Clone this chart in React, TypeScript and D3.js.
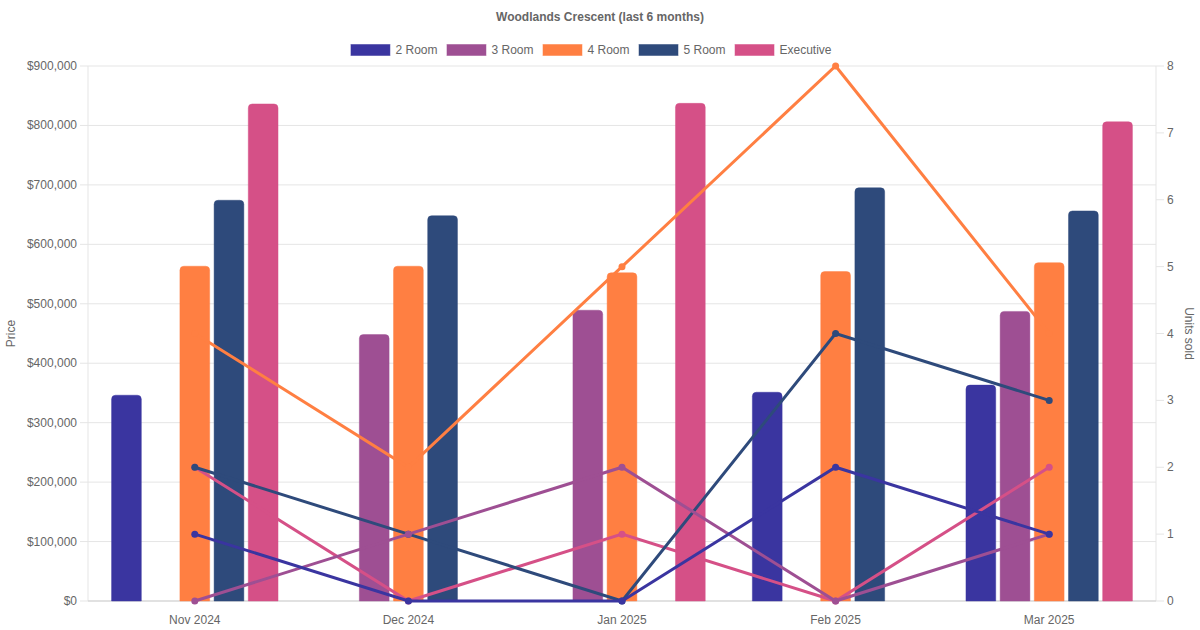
import { useMemo } from 'react'
import * as d3 from 'd3'

const W = 1200
const H = 630

const months = ['Nov 2024', 'Dec 2024', 'Jan 2025', 'Feb 2025', 'Mar 2025']
const flatTypes = ['2 Room', '3 Room', '4 Room', '5 Room', 'Executive']
const colors = ['#3a35a0', '#9e4f93', '#ff7f42', '#2e4a7b', '#d55087']

// median price per flat type (null = no sale that month)
const price2 = [347000, null, null, 352000, 364000]
const price3 = [null, 449000, 490000, null, 488000]
const price4 = [564000, 564000, 553000, 555000, 570000]
const price5 = [675000, 649000, null, 696000, 657000]
const priceExec = [837000, null, 838000, null, 807000]

// units sold per flat type
const units2 = [1, 0, 0, 2, 1]
const units3 = [0, 1, 2, 0, 1]
const units4 = [4, 2, 5, 8, 4]
const units5 = [2, 1, 0, 4, 3]
const unitsExec = [2, 0, 1, 0, 2]

const priceTicks = [0, 100000, 200000, 300000, 400000, 500000, 600000, 700000, 800000, 900000]
const unitTicks = [0, 1, 2, 3, 4, 5, 6, 7, 8]

const prices = [price2, price3, price4, price5, priceExec]
const units = [units2, units3, units4, units5, unitsExec]

const FONT = "'Helvetica Neue', Helvetica, Arial, 'Liberation Sans', sans-serif"
const TXT = '#666'
const GRID = '#e5e5e5'

const m = { top: 66, right: 44, bottom: 29, left: 88 }

function topRounded(x: number, y: number, w: number, h: number, r: number) {
  const rr = Math.min(r, w / 2, h)
  return `M${x},${y + h}V${y + rr}Q${x},${y} ${x + rr},${y}H${x + w - rr}Q${x + w},${y} ${x + w},${y + rr}V${y + h}Z`
}

export default function App() {
  const x0 = d3.scaleBand().domain(months).range([m.left, W - m.right]).paddingInner(0.2).paddingOuter(0.1)
  const x1 = d3.scaleBand().domain(flatTypes).range([0, x0.bandwidth()]).paddingInner(0.1).paddingOuter(0.05)
  const yL = d3.scaleLinear().domain([0, 900000]).range([H - m.bottom, m.top])
  const yR = d3.scaleLinear().domain([0, 8]).range([H - m.bottom, m.top])
  const cx = (mo: string) => (x0(mo) ?? 0) + x0.bandwidth() / 2
  const fmt = d3.format('$,')

  // legend layout (centre sits a little left of the page centre, as in the original)
  const legend = useMemo(() => {
    const ctx = document.createElement('canvas').getContext('2d')!
    ctx.font = `12px ${FONT}`
    const widths = flatTypes.map(t => 45 + ctx.measureText(t).width)
    const total = d3.sum(widths) + 9 * (widths.length - 1)
    let pos = 591 - total / 2
    return widths.map(w => { const p = pos; pos += w + 9; return p })
  }, [])

  const line = d3.line<number>().x((_, i) => cx(months[i])).y(d => yR(d))

  return (
    <div style={{ position: 'fixed', left: 0, top: 0 }}>
      <svg width={W} height={H} style={{ display: 'block', fontFamily: FONT }}>
        <rect width={W} height={H} fill="#fff" />
        <text x={W / 2} y={21} textAnchor="middle" fontSize={12} fontWeight="bold" fill={TXT}>
          Woodlands Crescent (last 6 months)
        </text>

        {flatTypes.map((t, i) => (
          <g key={t} transform={`translate(${legend[i]},44)`}>
            <rect x={0.5} y={0.5} width={39} height={11} fill={colors[i]} stroke={colors[i]} strokeOpacity={0.5} />
            <text x={45} y={10} fontSize={12} fill={TXT}>{t}</text>
          </g>
        ))}

        {/* grid + left axis */}
        {priceTicks.map(v => (
          <g key={v}>
            <line x1={m.left - 8} x2={W - m.right} y1={yL(v)} y2={yL(v)} stroke={GRID} />
            <text x={m.left - 11} y={yL(v) + 4} textAnchor="end" fontSize={12} fill={TXT}>{fmt(v)}</text>
          </g>
        ))}
        <line x1={m.left} x2={m.left} y1={m.top} y2={H - m.bottom} stroke={GRID} />
        <line x1={W - m.right} x2={W - m.right} y1={m.top} y2={H - m.bottom} stroke={GRID} />
        <line x1={m.left} x2={W - m.right} y1={H - m.bottom} y2={H - m.bottom} stroke="#d0d0d0" />

        {/* right axis */}
        {unitTicks.map(v => (
          <g key={v}>
            <line x1={W - m.right} x2={W - m.right + 8} y1={yR(v)} y2={yR(v)} stroke={GRID} />
            <text x={W - m.right + 11} y={yR(v) + 4} fontSize={12} fill={TXT}>{v}</text>
          </g>
        ))}

        {/* x labels */}
        {months.map(mo => (
          <text key={mo} x={cx(mo)} y={624} textAnchor="middle" fontSize={12} fill={TXT}>{mo}</text>
        ))}

        <text transform={`translate(15,${(m.top + H - m.bottom) / 2}) rotate(-90)`} textAnchor="middle" fontSize={12} fill={TXT}>Price</text>
        <text transform={`translate(1185,${(m.top + H - m.bottom) / 2}) rotate(90)`} textAnchor="middle" fontSize={12} fill={TXT}>Units sold</text>

        {/* bars */}
        {months.map((mo, mi) => (
          <g key={mo} transform={`translate(${x0(mo)},0)`}>
            {flatTypes.map((t, ti) => {
              const v = prices[ti][mi]
              if (v == null) return null
              const bx = x1(t) ?? 0
              const by = yL(v)
              return (
                <path key={t}
                  d={topRounded(bx + 0.5, by + 0.5, x1.bandwidth() - 1, yL(0) - by - 0.5, 4)}
                  fill={colors[ti]} stroke={colors[ti]} strokeOpacity={0.45} />
              )
            })}
          </g>
        ))}

        {/* unit lines, first series on top */}
        {flatTypes.map((t, ti) => ti).reverse().map(ti => (
          <g key={flatTypes[ti]}>
            <path d={line(units[ti]) ?? ''} fill="none" stroke={colors[ti]} strokeWidth={3} />
            {units[ti].map((u, i) => (
              <circle key={i} cx={cx(months[i])} cy={yR(u)} r={3.5} fill={colors[ti]} />
            ))}
          </g>
        ))}
      </svg>
    </div>
  )
}
